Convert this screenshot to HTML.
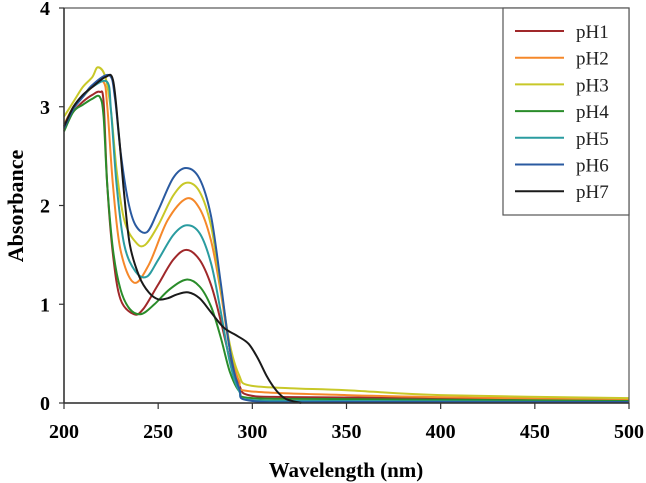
<!DOCTYPE html>
<html><head><meta charset="utf-8"><style>
body{margin:0;background:#fff;}
svg{display:block;font-family:"Liberation Serif",serif;}
</style></head><body>
<svg id="chart" width="646" height="483">
<rect x="0" y="0" width="646" height="483" fill="#fff"/>
<g id="series"></g>
<g id="axes"></g>
<text x="346" y="477" text-anchor="middle" font-size="21" font-weight="bold">Wavelength (nm)</text>
<text transform="translate(23,206) rotate(-90)" text-anchor="middle" font-size="22" font-weight="bold">Absorbance</text>
<g id="legend"></g>
</svg>
<script>
const xTicks=[200,250,300,350,400,450,500];
const yTicks=[0,1,2,3,4];
const names=["pH1","pH2","pH3","pH4","pH5","pH6","pH7"];
const colors=["#a0282a","#f5882a","#c8c828","#2a8c2a","#2a9ca0","#2a5aa0","#1a1a1a"];
const pH1=[[200,2.8],[205,2.95],[210,3.05],[215,3.12],[219,3.15],[221,3.05],[223,2.2],[226,1.5],[230,1.05],[237,0.9],[242,0.95],[250,1.2],[258,1.45],[265,1.55],[272,1.45],[278,1.2],[283,0.85],[288,0.45],[293,0.18],[298,0.08],[320,0.06],[400,0.05],[500,0.03]];
const pH2=[[200,2.82],[205,3.0],[210,3.1],[215,3.2],[221,3.25],[223,3.0],[226,2.2],[230,1.55],[237,1.22],[245,1.4],[255,1.85],[265,2.07],[272,1.97],[278,1.65],[283,1.15],[288,0.55],[293,0.22],[298,0.12],[350,0.08],[400,0.06],[500,0.03]];
const pH3=[[200,2.9],[205,3.05],[210,3.2],[215,3.3],[218,3.4],[222,3.3],[225,2.95],[228,2.35],[232,1.85],[238,1.63],[243,1.6],[250,1.8],[258,2.1],[265,2.23],[272,2.14],[278,1.8],[283,1.2],[288,0.6],[293,0.28],[298,0.18],[320,0.15],[350,0.13],[400,0.08],[500,0.05]];
const pH4=[[200,2.75],[205,2.95],[210,3.02],[215,3.08],[219,3.1],[221,2.9],[223,2.2],[226,1.55],[230,1.15],[235,0.95],[241,0.9],[248,1.0],[256,1.15],[265,1.25],[272,1.18],[278,0.98],[283,0.68],[288,0.32],[293,0.12],[300,0.05],[350,0.04],[500,0.02]];
const pH5=[[200,2.8],[205,2.98],[210,3.1],[215,3.2],[223,3.25],[225,2.95],[228,2.2],[232,1.6],[238,1.33],[244,1.28],[250,1.45],[258,1.7],[265,1.8],[272,1.72],[278,1.42],[283,0.95],[288,0.42],[293,0.12],[300,0.03],[350,0.02],[500,0.01]];
const pH6=[[200,2.78],[205,2.98],[210,3.1],[215,3.22],[224,3.32],[227,3.1],[230,2.55],[234,2.05],[238,1.8],[244,1.73],[250,1.95],[258,2.28],[265,2.38],[272,2.27],[278,1.9],[283,1.25],[288,0.55],[293,0.15],[300,0.02],[350,0.01],[500,0.01]];
const pH7=[[200,2.8],[205,3.0],[210,3.12],[215,3.2],[222,3.3],[226,3.27],[229,2.75],[232,2.1],[235,1.6],[240,1.28],[245,1.12],[250,1.05],[255,1.06],[260,1.1],[266,1.12],[272,1.06],[278,0.92],[285,0.76],[292,0.68],[298,0.6],[303,0.45],[308,0.26],[313,0.12],[318,0.04],[326,0.0]];
const seriesData=[pH1,pH2,pH3,pH4,pH5,pH6,pH7];

const L=64,R=629,T=8,B=403;
const xs=v=>L+(v-200)/300*(R-L);
const ys=v=>B-v/4*(B-T);
const NS="http://www.w3.org/2000/svg";
function mk(tag,attrs,parent){const e=document.createElementNS(NS,tag);for(const k in attrs)e.setAttribute(k,attrs[k]);parent.appendChild(e);return e;}
function pathFor(pts){
  const p=pts.map(d=>[xs(d[0]),ys(d[1])]);
  let s="M"+p[0][0].toFixed(1)+","+p[0][1].toFixed(1);
  const k=1/6;
  for(let i=0;i<p.length-1;i++){
    const p0=p[Math.max(0,i-1)],p1=p[i],p2=p[i+1],p3=p[Math.min(p.length-1,i+2)];
    const c1=[p1[0]+(p2[0]-p0[0])*k,p1[1]+(p2[1]-p0[1])*k];
    const c2=[p2[0]-(p3[0]-p1[0])*k,p2[1]-(p3[1]-p1[1])*k];
    s+=" C"+c1[0].toFixed(1)+","+c1[1].toFixed(1)+" "+c2[0].toFixed(1)+","+c2[1].toFixed(1)+" "+p2[0].toFixed(1)+","+p2[1].toFixed(1);
  }
  return s;
}
const sg=document.getElementById("series");
seriesData.forEach((d,i)=>{
  const el=mk("path",{d:pathFor(d),fill:"none",stroke:colors[i],"stroke-width":2},sg);
  
  
});
const ag=document.getElementById("axes");
const frame=mk("rect",{x:L,y:T,width:R-L,height:B-T,fill:"none",stroke:"#555","stroke-width":1.2},ag);


mk("line",{x1:L,y1:T,x2:L,y2:B,stroke:"#333","stroke-width":1.5},ag);
mk("line",{x1:L,y1:B,x2:R,y2:B,stroke:"#333","stroke-width":1.5},ag);
xTicks.forEach(v=>{
  mk("line",{x1:xs(v),y1:B,x2:xs(v),y2:B+6,stroke:"#333","stroke-width":1.2},ag);
  const t=mk("text",{x:xs(v),y:B+35,"text-anchor":"middle","font-size":20,"font-weight":"bold"},ag);
  t.textContent=v;
  
  
});
yTicks.forEach(v=>{
  mk("line",{x1:L-5,y1:ys(v),x2:L,y2:ys(v),stroke:"#333","stroke-width":1.2},ag);
  const t=mk("text",{x:L-14,y:ys(v)+7,"text-anchor":"end","font-size":20,"font-weight":"bold"},ag);
  t.textContent=v;
  
  
});
const lg=document.getElementById("legend");
const box=mk("rect",{x:503,y:8,width:126,height:207,fill:"#fff",stroke:"#555","stroke-width":1.2},lg);


names.forEach((n,i)=>{
  const y=31+i*26.7;
  const ln=mk("line",{x1:515,y1:y,x2:564,y2:y,stroke:colors[i],"stroke-width":2},lg);
  
  
  const t=mk("text",{x:576,y:y+7,"font-size":19,fill:"#222"},lg);
  t.textContent=n;
  
  
});
</script>
</body></html>
